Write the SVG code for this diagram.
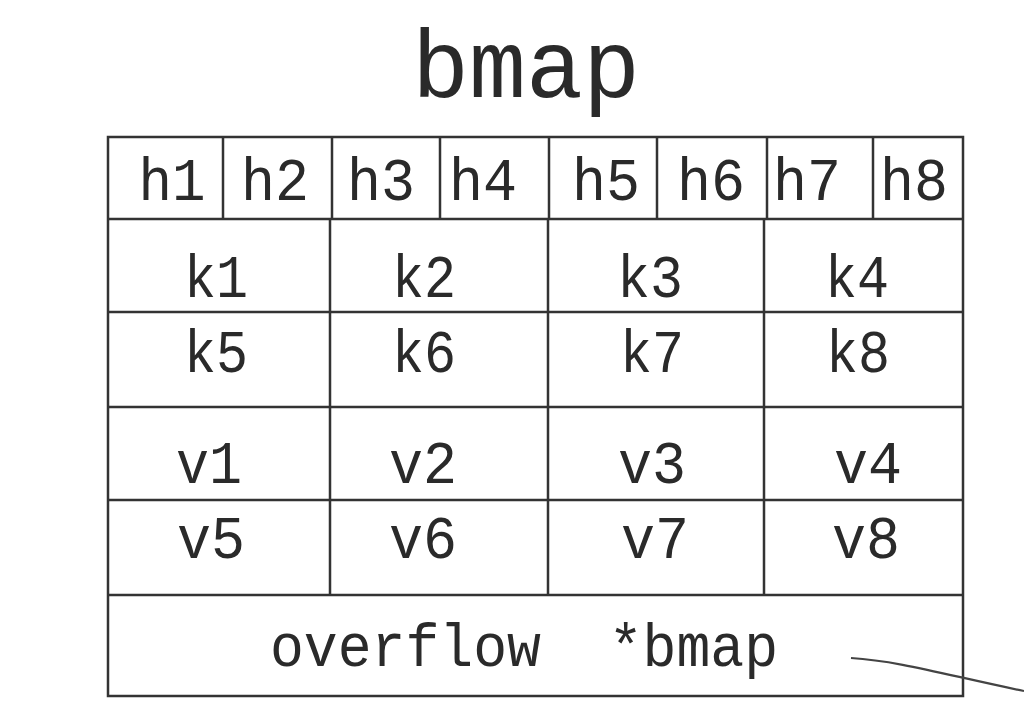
<svg xmlns="http://www.w3.org/2000/svg" width="1024" height="721" viewBox="0 0 1024 721">
<style>
.t{font-family:"Courier New","Nimbus Mono PS","Liberation Mono",monospace;fill:#2a2a2a;text-anchor:middle}
.c{font-size:62px}
.ln{stroke:#333;stroke-width:2.5;fill:none}
</style>
<rect width="1024" height="721" fill="#fff"/>
<g id="title"><text class="t" x="526" y="97" font-size="96" textLength="228" lengthAdjust="spacingAndGlyphs">bmap</text></g>
<g id="table">
<rect class="ln" x="108" y="137" width="855" height="559"/>
<line class="ln" x1="108" y1="219" x2="963" y2="219"/>
<line class="ln" x1="108" y1="312" x2="963" y2="312"/>
<line class="ln" x1="108" y1="407" x2="963" y2="407"/>
<line class="ln" x1="108" y1="500" x2="963" y2="500"/>
<line class="ln" x1="108" y1="595" x2="963" y2="595"/>
<line class="ln" x1="223" y1="137" x2="223" y2="219"/>
<line class="ln" x1="332" y1="137" x2="332" y2="219"/>
<line class="ln" x1="440" y1="137" x2="440" y2="219"/>
<line class="ln" x1="549" y1="137" x2="549" y2="219"/>
<line class="ln" x1="657" y1="137" x2="657" y2="219"/>
<line class="ln" x1="767" y1="137" x2="767" y2="219"/>
<line class="ln" x1="873" y1="137" x2="873" y2="219"/>
<line class="ln" x1="330" y1="219" x2="330" y2="595"/>
<line class="ln" x1="548" y1="219" x2="548" y2="595"/>
<line class="ln" x1="764" y1="219" x2="764" y2="595"/>
</g>
<g id="hrow">
<text class="t c" x="172" y="200" textLength="67" lengthAdjust="spacingAndGlyphs">h1</text>
<text class="t c" x="275" y="200" textLength="68" lengthAdjust="spacingAndGlyphs">h2</text>
<text class="t c" x="381" y="200" textLength="68" lengthAdjust="spacingAndGlyphs">h3</text>
<text class="t c" x="483" y="200" textLength="68" lengthAdjust="spacingAndGlyphs">h4</text>
<text class="t c" x="606" y="200" textLength="68" lengthAdjust="spacingAndGlyphs">h5</text>
<text class="t c" x="711" y="200" textLength="68" lengthAdjust="spacingAndGlyphs">h6</text>
<text class="t c" x="807" y="200" textLength="68" lengthAdjust="spacingAndGlyphs">h7</text>
<text class="t c" x="914" y="200" textLength="68" lengthAdjust="spacingAndGlyphs">h8</text>
</g>
<g id="krow">
<text class="t c" x="216" y="297" textLength="64" lengthAdjust="spacingAndGlyphs">k1</text>
<text class="t c" x="424" y="297" textLength="64" lengthAdjust="spacingAndGlyphs">k2</text>
<text class="t c" x="650" y="297" textLength="66" lengthAdjust="spacingAndGlyphs">k3</text>
<text class="t c" x="857" y="297" textLength="64" lengthAdjust="spacingAndGlyphs">k4</text>
<text class="t c" x="216" y="372" textLength="64" lengthAdjust="spacingAndGlyphs">k5</text>
<text class="t c" x="424" y="372" textLength="64" lengthAdjust="spacingAndGlyphs">k6</text>
<text class="t c" x="652" y="372" textLength="64" lengthAdjust="spacingAndGlyphs">k7</text>
<text class="t c" x="858" y="372" textLength="64" lengthAdjust="spacingAndGlyphs">k8</text>
</g>
<g id="vrow">
<text class="t c" x="209" y="483" textLength="66" lengthAdjust="spacingAndGlyphs">v1</text>
<text class="t c" x="423" y="483" textLength="68" lengthAdjust="spacingAndGlyphs">v2</text>
<text class="t c" x="652" y="483" textLength="68" lengthAdjust="spacingAndGlyphs">v3</text>
<text class="t c" x="868" y="483" textLength="68" lengthAdjust="spacingAndGlyphs">v4</text>
<text class="t c" x="211" y="558" textLength="68" lengthAdjust="spacingAndGlyphs">v5</text>
<text class="t c" x="423" y="558" textLength="68" lengthAdjust="spacingAndGlyphs">v6</text>
<text class="t c" x="655" y="558" textLength="68" lengthAdjust="spacingAndGlyphs">v7</text>
<text class="t c" x="866" y="558" textLength="68" lengthAdjust="spacingAndGlyphs">v8</text>
</g>
<g id="overflow"><text class="t" x="524" y="666" font-size="62" textLength="508" lengthAdjust="spacingAndGlyphs" style="white-space:pre">overflow  *bmap</text></g>
<g id="connectors">
<path d="M851 658 C900 661 950 676 1024 691" stroke="#444" stroke-width="2.2" fill="none"/>
</g>
</svg>
